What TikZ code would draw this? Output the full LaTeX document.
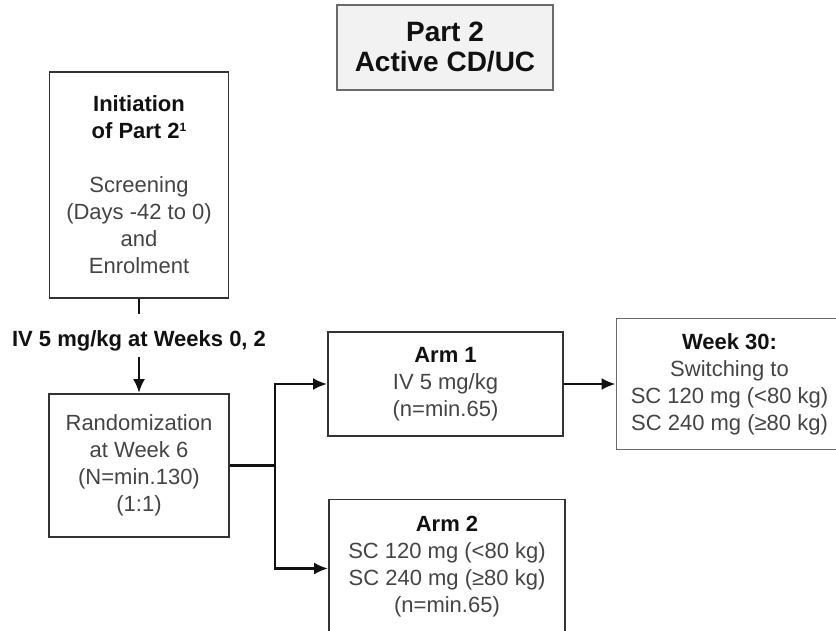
\documentclass[tikz,border=0pt]{standalone}
\usepackage{fontspec}
\setmainfont{Liberation Sans}
\usetikzlibrary{arrows.meta}
\definecolor{boxline}{HTML}{333333}
\definecolor{greyline}{HTML}{6A6A6A}
\definecolor{titlefill}{HTML}{F2F2F2}
\definecolor{bodytext}{HTML}{444444}
\definecolor{headtext}{HTML}{111111}
\newcommand{\boxhead}[1]{\textcolor{headtext}{\bfseries #1}}

\begin{document}
\begin{tikzpicture}[x=1pt, y=-1pt,
    box/.style={draw=boxline, line width=1.8pt, align=center, inner sep=0pt,
        text=bodytext, font=\fontsize{22}{27}\selectfont},
    conn/.style={draw=headtext, line width=2.6pt},
    arr/.style={-{Latex[length=14pt,width=12pt]}}]
    \useasboundingbox (0,0) rectangle (836,630);
    % boxes
    \node[box, draw=greyline, fill=titlefill, minimum width=216pt, minimum height=85pt,
        font=\fontsize{28}{30}\selectfont\bfseries, text=headtext] (title) at (445,47.5) {Part 2\\Active CD/UC};
    \node[box, minimum width=179pt, minimum height=226pt] (init) at (139,185)
        {\boxhead{Initiation}\\\boxhead{of Part 2\raisebox{7pt}{\fontsize{12}{12}\selectfont 1}}\\[27pt]Screening\\(Days -42 to 0)\\and\\Enrolment};
    \node[font=\fontsize{22}{27}\selectfont\bfseries, text=headtext, anchor=base, inner sep=0pt,
        text height=32pt, text depth=11pt] (dose) at (139,346) {IV 5 mg/kg at Weeks 0, 2};
    \node[box, minimum width=180pt, minimum height=143pt] (rand) at (139,465.5)
        {Randomization\\at Week 6\\(N=min.130)\\(1:1)};
    \node[box, minimum width=235pt, minimum height=104pt] (arm1) at (445.5,384)
        {\boxhead{Arm 1}\\IV 5 mg/kg\\(n=min.65)};
    \node[box, draw=greyline, minimum width=226pt, minimum height=131pt] (wk30) at (729.5,384)
        {\boxhead{Week 30:}\\Switching to\\SC 120 mg (<80 kg)\\SC 240 mg (≥80 kg)};
    \node[box, minimum width=236pt, minimum height=135pt] (arm2) at (447,567)
        {\boxhead{Arm 2}\\SC 120 mg (<80 kg)\\SC 240 mg (≥80 kg)\\(n=min.65)};
    % connectors
    \coordinate (split) at ([xshift=45pt]rand.east);
    \draw[conn] (init.south) -- (dose.north);
    \draw[conn, arr] (dose.south) -- (rand.north);
    \draw[conn] (rand.east) -- (split);
    \draw[conn, arr] (split) |- (arm1.west);
    \draw[conn, arr] (split) |- ([yshift=-1.5pt]arm2.west);
    \draw[conn, arr] (arm1.east) -- (wk30.west);
\end{tikzpicture}
\end{document}
